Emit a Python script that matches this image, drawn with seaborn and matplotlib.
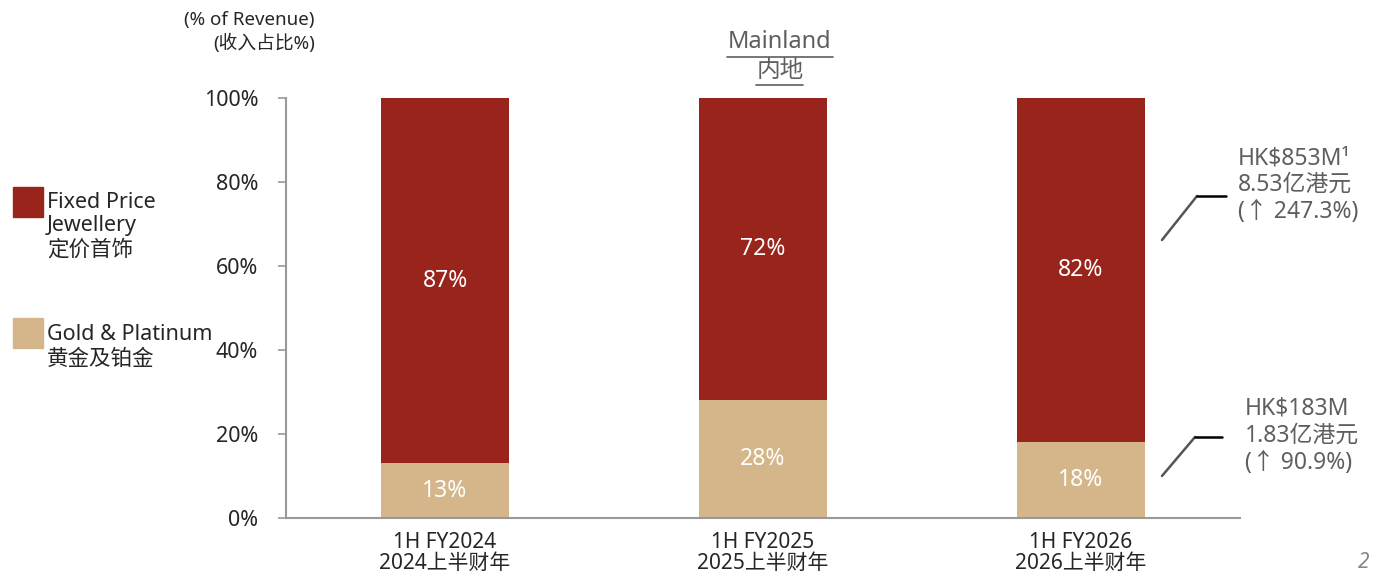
import numpy as np
import pandas as pd
import matplotlib
matplotlib.use("Agg")
import matplotlib.pyplot as plt
import seaborn as sns
from matplotlib.lines import Line2D
from matplotlib.patches import Rectangle

# data
periods = ["1H FY2024\n2024上半财年", "1H FY2025\n2025上半财年", "1H FY2026\n2026上半财年"]
fixed_price = [87, 72, 82]
gold_platinum = [13, 28, 18]
yticks = [0, 20, 40, 60, 80, 100]

RED = "#98241b"
TAN = "#d4b68a"
GRAY = "#5f5f5f"

sns.set_style("white")
plt.rcParams['font.family'] = ['Noto Sans', 'Noto Sans CJK SC', 'DejaVu Sans']

df = pd.DataFrame({"period": periods, "fixed": fixed_price, "gold": gold_platinum})
df["total"] = df["fixed"] + df["gold"]

fig = plt.figure(figsize=(13.73, 5.72), dpi=100)
ax = fig.add_axes([286/1373, 1-518/572, (1240-286)/1373, (518-98)/572])

sns.barplot(data=df, x="period", y="total", color=RED, width=0.4, saturation=1, linewidth=0, ax=ax)
sns.barplot(data=df, x="period", y="gold", color=TAN, width=0.4, saturation=1, linewidth=0, ax=ax)

for i, (f, g) in enumerate(zip(fixed_price, gold_platinum)):
    ax.text(i, g + f/2, f"{f}%", ha="center", va="center", color="white", fontsize=16.5)
    ax.text(i, g/2, f"{g}%", ha="center", va="center", color="white", fontsize=16.5)

ax.set_xlim(-0.5, 2.5)
ax.set_ylim(0, 100)
ax.set_xlabel("")
ax.set_ylabel("")
ax.set_yticks(yticks)
ax.set_yticklabels([f"{v}%" for v in yticks], fontsize=15.5)
ax.set_xticks(range(3))
ax.set_xticklabels(periods, fontsize=15, linespacing=1.0)
ax.set_xticks([-0.5, 0.5, 1.5, 2.5], minor=True)
ax.tick_params(axis="x", which="major", length=0, pad=10)
ax.tick_params(axis="x", which="minor", length=8, color="#999999", width=1.2, direction="out")
ax.tick_params(axis="y", length=6, color="#999999", width=1.2, direction="out", left=True, pad=14)
for s in ["top", "right"]:
    ax.spines[s].set_visible(False)
for s in ["left", "bottom"]:
    ax.spines[s].set_color("#999999")
    ax.spines[s].set_linewidth(1.5)

# axis unit label
fig.text(315/1373, 1-20/572, "(% of Revenue)", ha="right", va="center", fontsize=13.5)
fig.text(315/1373, 1-43/572, "(收入占比%)", ha="right", va="center", fontsize=13.5)

# title
fig.text(780/1373, 1-42/572, "Mainland", ha="center", va="center", fontsize=17, color=GRAY)
fig.text(780/1373, 1-71/572, "内地", ha="center", va="center", fontsize=17, color=GRAY)
fig.add_artist(Line2D([727/1373, 833/1373], [1-57/572]*2, color=GRAY, lw=1.2))
fig.add_artist(Line2D([756/1373, 803/1373], [1-85/572]*2, color=GRAY, lw=1.2))

# legend
fig.add_artist(Rectangle((13/1373, 1-217/572), 30/1373, 30/572, color=RED, transform=fig.transFigure))
fig.add_artist(Rectangle((13/1373, 1-348/572), 30/1373, 30/572, color=TAN, transform=fig.transFigure))
fig.text(47/1373, 1-202/572, "Fixed Price", ha="left", va="center", fontsize=15.5)
fig.text(47/1373, 1-226/572, "Jewellery", ha="left", va="center", fontsize=15.5)
fig.text(47/1373, 1-250/572, "定价首饰", ha="left", va="center", fontsize=15.5)
fig.text(47/1373, 1-335/572, "Gold & Platinum", ha="left", va="center", fontsize=15.5)
fig.text(47/1373, 1-359/572, "黄金及铂金", ha="left", va="center", fontsize=15.5)

# right-hand annotations
for x0, lines, ys, conn in [
    (1238, ["HK$853M¹", "8.53亿港元", "(↑ 247.3%)"], [158, 185, 212], [(1162, 240), (1197, 196), (1226, 196)]),
    (1245, ["HK$183M", "1.83亿港元", "(↑ 90.9%)"], [409, 436, 463], [(1162, 476), (1195, 437), (1222, 437)]),
]:
    for t, y in zip(lines, ys):
        fig.text(x0/1373, 1-y/572, t, ha="left", va="center", fontsize=16.5, color=GRAY)
    (ax1, ay1), (ax2, ay2), (ax3, ay3) = conn
    fig.add_artist(Line2D([ax1/1373, ax2/1373], [1-ay1/572, 1-ay2/572], color="#555555", lw=1.8))
    fig.add_artist(Line2D([ax2/1373, ax3/1373], [1-ay2/572, 1-ay3/572], color="black", lw=1.8))

fig.text(1364/1373, 1-562/572, "2", ha="center", va="center", fontsize=15, color="#888888", style="italic")

plt.savefig("out.png", dpi=100)
